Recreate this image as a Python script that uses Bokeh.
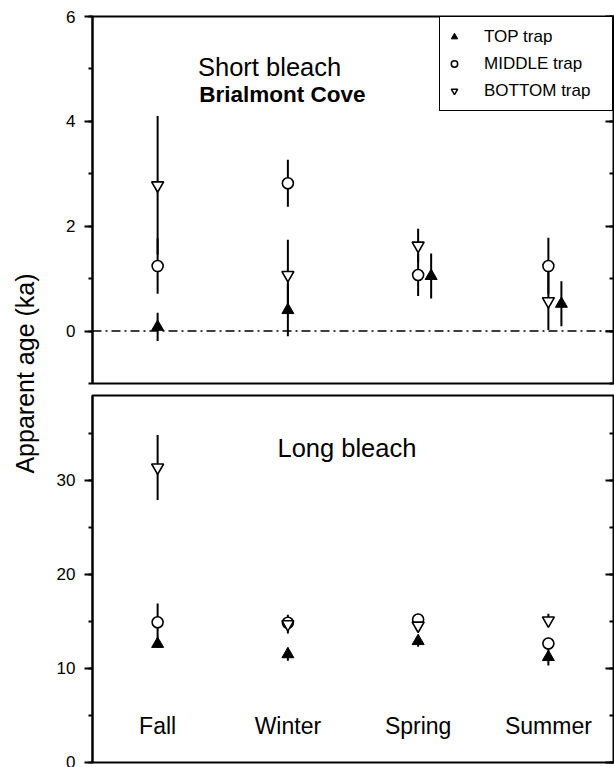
import math
from bokeh.plotting import figure
from bokeh.models import (Range1d, LinearAxis, SingleIntervalTicker, Span, Label,
                          Legend, LegendItem, ColumnDataSource)
from bokeh.layouts import row, column
from bokeh.core.properties import value
from bokeh.embed import file_html
from bokeh.resources import INLINE

FONT = "Liberation Sans"

# ---------------- data ----------------
seasons = ["Fall", "Winter", "Spring", "Summer"]
season_x = [1, 2, 3, 4]

# Short bleach (ka)
short_top = [0.08, 0.40, 1.05, 0.52]
short_top_err = [0.27, 0.50, 0.43, 0.43]
short_top_offset = [0.0, 0.0, 0.1, 0.1]
short_mid = [1.24, 2.82, 1.07, 1.24]
short_mid_err = [0.53, 0.45, 0.40, 0.54]
short_bot = [2.78, 1.07, 1.63, 0.57]
short_bot_err = [1.32, 0.67, 0.32, 0.55]

# Long bleach (ka)
long_top = [12.6, 11.5, 12.9, 11.2]
long_top_err = [0.4, 0.7, 0.6, 0.9]
long_mid = [14.9, 14.85, 15.2, 12.65]
long_mid_err = [2.0, 0.6, 0.6, 0.6]
long_bot = [31.35, 14.7, 14.55, 15.1]
long_bot_err = [3.45, 1.0, 0.4, 0.7]

legend_labels = ["TOP trap", "MIDDLE trap", "BOTTOM trap"]


def style_axes(p, interval):
    ax = p.yaxis[0]
    ax.ticker = SingleIntervalTicker(interval=interval, num_minor_ticks=2)
    ax.major_tick_out = 8
    ax.major_tick_in = 0
    ax.minor_tick_out = 4
    ax.minor_tick_in = 0
    ax.axis_line_width = 2
    ax.major_tick_line_width = 2
    ax.minor_tick_line_width = 2
    ax.major_label_standoff = 9
    ax.major_label_text_font = FONT
    ax.major_label_text_font_size = "17px"
    ax.major_label_text_color = "black"
    rax = LinearAxis(ticker=SingleIntervalTicker(interval=interval, num_minor_ticks=2),
                     major_tick_in=8, major_tick_out=0, minor_tick_in=4, minor_tick_out=0,
                     major_tick_line_width=2, minor_tick_line_width=2,
                     axis_line_color=None, major_label_text_font_size="0px",
                     major_label_standoff=0)
    p.add_layout(rax, "right")
    p.grid.grid_line_color = None
    p.outline_line_color = "black"
    p.outline_line_width = 2
    p.outline_line_alpha = 1.0


def draw_series(p, xs, top, top_err, mid, mid_err, bot, bot_err, top_off):
    xt = [x + o for x, o in zip(xs, top_off)]
    for xx, yy, ee in ((xs, bot, bot_err), (xs, mid, mid_err), (xt, top, top_err)):
        src = ColumnDataSource(dict(x=xx, lo=[a - b for a, b in zip(yy, ee)],
                                    hi=[a + b for a, b in zip(yy, ee)]))
        p.segment(x0="x", y0="lo", x1="x", y1="hi", source=src,
                  line_color="black", line_width=2)
    p.scatter(x=xs, y=mid, marker="circle", size=11, fill_color="white",
              line_color="black", line_width=1.6)
    p.scatter(x=xs, y=bot, marker="inverted_triangle", size=12, fill_color="white",
              line_color="black", line_width=1.6)
    p.scatter(x=xt, y=top, marker="triangle", size=12, fill_color="black",
              line_color="black", line_width=1)


# ---------------- top panel ----------------
p1 = figure(width=564, height=388, x_range=Range1d(0.5, 4.5), y_range=Range1d(-1, 6),
            output_backend="svg", toolbar_location=None, x_axis_location=None,
            min_border_left=40, min_border_right=1, min_border_top=16, min_border_bottom=5)
style_axes(p1, 2)
p1.add_layout(Span(location=0, dimension="width", line_color="black", line_width=1.5,
                   line_dash="9 4 2 4"))
draw_series(p1, season_x, short_top, short_top_err, short_mid, short_mid_err,
            short_bot, short_bot_err, short_top_offset)

p1.add_layout(Label(x=1.31, y=5.03, text="Short bleach", text_align="left",
                    text_baseline="alphabetic", text_font=FONT, text_font_size="25.5px",
                    text_color="black"))
p1.add_layout(Label(x=1.32, y=4.52, text="Brialmont Cove", text_align="left",
                    text_baseline="alphabetic", text_font=FONT, text_font_size="22.5px",
                    text_font_style="bold", text_color="black"))

# legend (separate small-glyph renderers holding no visible points)
nan_src = dict(x=[float("nan")], y=[float("nan")])
lg_top = p1.scatter(x="x", y="y", source=ColumnDataSource(nan_src), marker="triangle",
                    size=10, fill_color="black", line_color="black")
lg_mid = p1.scatter(x="x", y="y", source=ColumnDataSource(nan_src), marker="circle", size=9,
                    fill_color="white", line_color="black", line_width=1.5)
lg_bot = p1.scatter(x="x", y="y", source=ColumnDataSource(nan_src), marker="inverted_triangle",
                    size=10, fill_color="white", line_color="black", line_width=1.5)
legend = Legend(items=[LegendItem(label=legend_labels[0], renderers=[lg_top]),
                       LegendItem(label=legend_labels[1], renderers=[lg_mid]),
                       LegendItem(label=legend_labels[2], renderers=[lg_bot])],
                location="top_right", margin=0, padding=6, spacing=0,
                glyph_width=16, glyph_height=27, label_height=27, label_standoff=22,
                label_width=122, border_line_color="black", border_line_width=1.5,
                border_line_alpha=1.0, label_text_color="black",
                label_text_font=FONT, label_text_font_size="17px",
                background_fill_color="white", background_fill_alpha=1.0)
p1.add_layout(legend)

# ---------------- bottom panel ----------------
p2 = figure(width=564, height=379, x_range=Range1d(0.5, 4.5), y_range=Range1d(0, 39),
            output_backend="svg", toolbar_location=None, x_axis_location=None,
            min_border_left=42, min_border_right=1, min_border_top=7, min_border_bottom=5)
style_axes(p2, 10)
draw_series(p2, season_x, long_top, long_top_err, long_mid, long_mid_err,
            long_bot, long_bot_err, [0, 0, 0, 0])
p2.add_layout(Label(x=1.92, y=33.4, text="Long bleach", text_align="left",
                    text_baseline="alphabetic", text_font=FONT, text_font_size="25.5px",
                    text_color="black"))
p2.text(x=season_x, y=[3.83] * len(seasons), text=seasons, text_align="center",
        text_baseline="alphabetic", text_font=value(FONT), text_font_size="23px",
        text_color="black")

# ---------------- y label strip ----------------
lf = figure(width=50, height=767, x_range=Range1d(0, 50), y_range=Range1d(767, 0),
            output_backend="svg", toolbar_location=None, x_axis_location=None,
            y_axis_location=None, min_border=0, outline_line_color=None)
lf.grid.grid_line_color = None
lf.text(x=[24], y=[373], text=["Apparent age (ka)"], angle=math.pi / 2,
        text_align="center", text_baseline="middle", text_font=value(FONT),
        text_font_size="25px", text_color="black")

layout = row(lf, column(p1, p2))
open("out.html", "w").write(file_html(layout, INLINE))
